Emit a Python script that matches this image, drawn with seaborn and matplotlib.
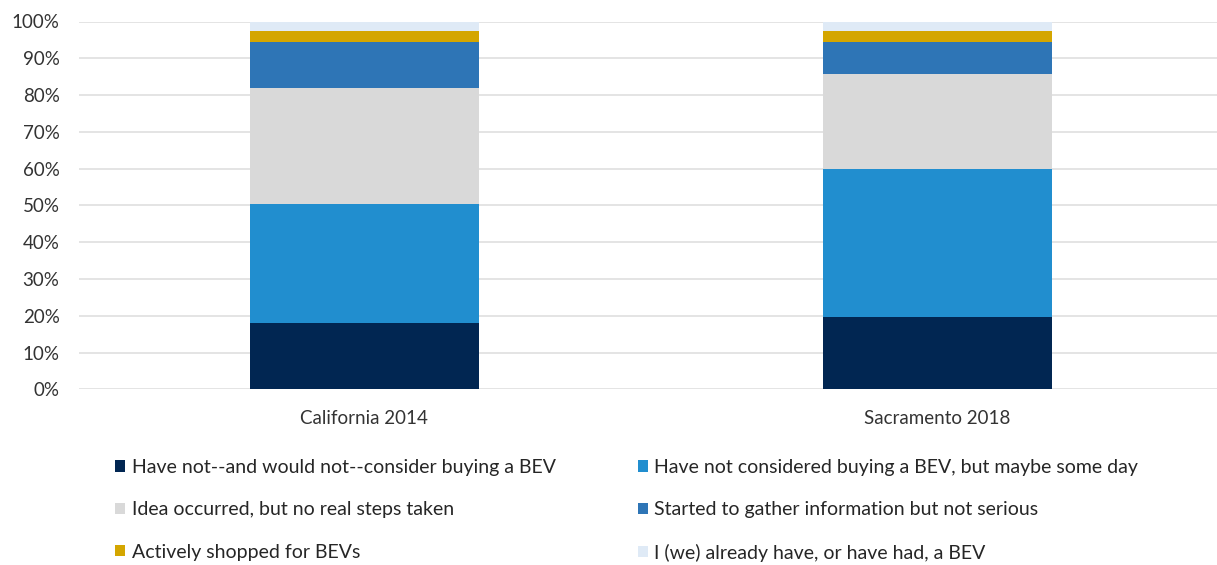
import matplotlib
matplotlib.use("Agg")
import matplotlib.pyplot as plt
import seaborn as sns
import numpy as np

categories = ["California 2014", "Sacramento 2018"]
series_labels = [
    "Have not--and would not--consider buying a BEV",
    "Have not considered buying a BEV, but maybe some day",
    "Idea occurred, but no real steps taken",
    "Started to gather information but not serious",
    "Actively shopped for BEVs",
    "I (we) already have, or have had, a BEV",
]
would_not = [18.1, 19.6]
maybe_someday = [32.4, 40.3]
idea_occurred = [31.5, 25.8]
gather_info = [12.3, 8.6]
actively_shopped = [3.2, 3.2]
already_have = [2.5, 2.5]
series_values = [would_not, maybe_someday, idea_occurred, gather_info,
                 actively_shopped, already_have]
colors = ["#012652", "#218ecf", "#d9d9d9", "#2e75b6", "#d4a600", "#dfeaf6"]
yticks = [0, 10, 20, 30, 40, 50, 60, 70, 80, 90, 100]

sns.set_theme(style="white")
plt.rcParams["font.family"] = ["Lato", "DejaVu Sans"]

fig = plt.figure(figsize=(12.17, 5.65), dpi=100)
ax = fig.add_axes([79 / 1217, 1 - 389.3 / 565, 1 - 79 / 1217, (389.3 - 21.5) / 565])

bottom = np.zeros(len(categories))
for vals, lab, col in zip(series_values, series_labels, colors):
    sns.barplot(x=categories, y=vals, bottom=bottom, color=col, width=0.4,
                linewidth=0, ax=ax, label=lab, saturation=1)
    bottom = bottom + np.array(vals)

ax.set_xlim(-0.498, 1.488)
ax.set_ylim(0, 100)
ax.set_yticks(yticks)
ax.set_yticklabels([f"{t}%" for t in yticks])
ax.yaxis.grid(True, color="#e2e2e2", linewidth=1.3)
ax.set_axisbelow(True)
for s in ax.spines.values():
    s.set_visible(False)
ax.tick_params(axis="both", length=0, labelsize=13.5, colors="#333333")
ax.tick_params(axis="y", pad=14)
ax.tick_params(axis="x", pad=15)
ax.set_xlabel("")
ax.set_ylabel("")

h, l = ax.get_legend_handles_labels()
if ax.get_legend() is not None:
    ax.get_legend().remove()
# reorder for row-major filling in 2 columns
order = [0, 2, 4, 1, 3, 5]
fig.legend([h[i] for i in order], [l[i] for i in order], ncol=2,
           loc="upper left", bbox_to_anchor=(115 / 1217, 1 - 459 / 565),
           frameon=False, fontsize=14, handlelength=0.52, handleheight=0.52,
           handletextpad=0.35, labelspacing=1.3, columnspacing=4.2,
           borderpad=0, borderaxespad=0)

fig.savefig("out.png", dpi=100)
